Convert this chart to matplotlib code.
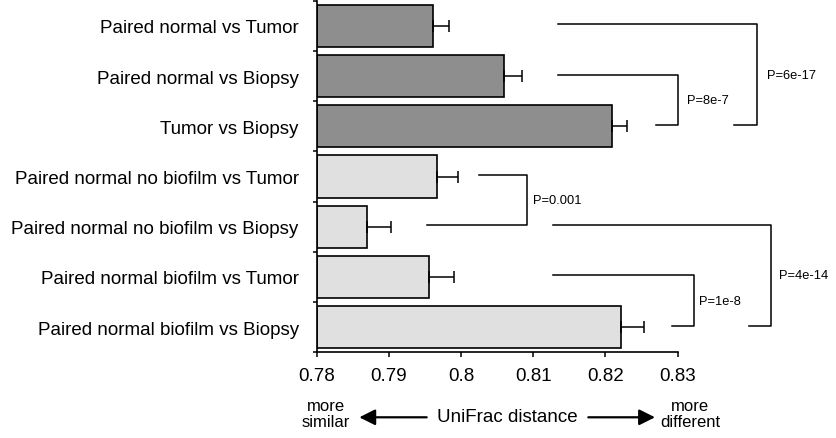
import matplotlib
matplotlib.use("Agg")
import matplotlib.pyplot as plt
import numpy as np

plt.rcParams['font.family'] = ['Liberation Sans', 'DejaVu Sans']

categories = [
    "Paired normal vs Tumor",
    "Paired normal vs Biopsy",
    "Tumor vs Biopsy",
    "Paired normal no biofilm vs Tumor",
    "Paired normal no biofilm vs Biopsy",
    "Paired normal biofilm vs Tumor",
    "Paired normal biofilm vs Biopsy",
]
values = [0.7961, 0.8060, 0.8209, 0.7966, 0.7869, 0.7956, 0.8222]
errors = [0.0022, 0.0025, 0.0021, 0.0030, 0.0034, 0.0034, 0.0031]
groups = ["dark", "dark", "dark", "light", "light", "light", "light"]
xticks = [0.78, 0.79, 0.80, 0.81, 0.82, 0.83]
xticklabels = ["0.78", "0.79", "0.8", "0.81", "0.82", "0.83"]

p_labels = ["P=6e-17", "P=8e-7", "P=0.001", "P=4e-14", "P=1e-8"]
bracket_rows = [(0, 2), (1, 2), (3, 4), (4, 6), (5, 6)]
bracket_x_a = [0.81346, 0.81346, 0.80252, 0.81277, 0.81277]
bracket_x_b = [0.83784, 0.82699, 0.79532, 0.83988, 0.82917]
bracket_x_v = [0.84102, 0.83008, 0.80913, 0.84288, 0.83230]
label_x = [0.84233, 0.83125, 0.81000, 0.84407, 0.83300]

colors = {"dark": "#8e8e8e", "light": "#e0e0e0"}

W, H = 837, 439
fig = plt.figure(figsize=(W / 100, H / 100), dpi=100)
left, right = 316.7, 677.7
top, bottom = 1.7, 353.3
ax = fig.add_axes([left / W, (H - bottom) / H, (right - left) / W, (bottom - top) / H])

y = np.arange(len(categories))
ax.barh(y, [v - 0.78 for v in values], left=0.78, height=0.84,
        color=[colors[g] for g in groups], edgecolor="black", linewidth=1.2, zorder=2)
ax.errorbar(values, y, xerr=[np.zeros(len(errors)), errors], fmt="none",
            ecolor="black", elinewidth=1.1, capsize=4.6, capthick=1.1, zorder=3)

ax.set_xlim(0.78, 0.83)
ax.set_ylim(len(categories) - 0.5, -0.5)
ax.set_xticks(xticks)
ax.set_xticklabels(xticklabels, fontsize=13.5)
ax.set_yticks(y)
ax.set_yticklabels(categories, fontsize=13.5)
ax.set_yticks(np.arange(len(categories) + 1) - 0.5, minor=True)
ax.tick_params(axis="y", which="major", length=0, pad=13)
ax.tick_params(axis="y", which="minor", length=3.2, width=1.1, direction="out")
ax.tick_params(axis="x", which="major", length=3.8, width=1.1, direction="out", pad=7)
for s in ["top", "right"]:
    ax.spines[s].set_visible(False)
for s in ["left", "bottom"]:
    ax.spines[s].set_linewidth(1.2)

for (ra, rb), xa, xb, xv, lab, lx in zip(bracket_rows, bracket_x_a, bracket_x_b,
                                          bracket_x_v, p_labels, label_x):
    ax.plot([xa, xv, xv, xb], [ra - 0.03, ra - 0.03, rb - 0.03, rb - 0.03],
            color="black", linewidth=1.1, clip_on=False, zorder=4)
    ax.text(lx, (ra + rb) / 2 - 0.03, lab, fontsize=9.3, va="center", ha="left",
            clip_on=False)

def fy(py):
    return (H - py) / H
def fx(px):
    return px / W

fig.text(fx(325.7), fy(414.5), "more\nsimilar", ha="center", va="center",
         fontsize=12, linespacing=1.05)
fig.text(fx(690), fy(414.5), "more\ndifferent", ha="center", va="center",
         fontsize=12, linespacing=1.05)
fig.text(fx(507.5), fy(418), "UniFrac distance", ha="center", va="center", fontsize=13.5)
for x0, x1 in [(426.7, 359.3), (588.3, 655)]:
    fig.add_artist(matplotlib.patches.FancyArrowPatch(
        (fx(x0), fy(418.3)), (fx(x1), fy(418.3)),
        transform=fig.transFigure, mutation_scale=12,
        arrowstyle="-|>,head_length=0.8,head_width=0.4", color="black",
        linewidth=1.6, shrinkA=0, shrinkB=0))

fig.savefig("out.png", dpi=100)
